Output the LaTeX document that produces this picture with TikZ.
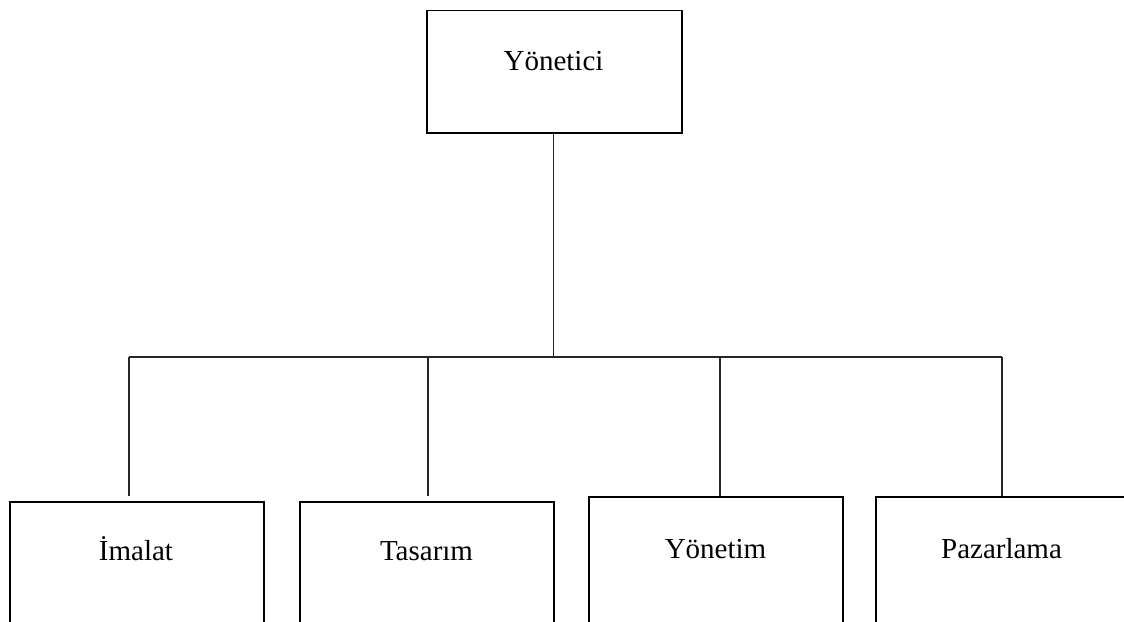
\documentclass[tikz,border=0pt]{standalone}
\usepackage{fontspec}
\setmainfont{Liberation Serif}
\begin{document}
\begin{tikzpicture}[x=1pt,y=-1pt,
  unitbox/.style={draw=black,line width=1.8pt,fill=white,inner sep=0pt,
    minimum width=254pt,anchor=north west},
  headbox/.style={draw=black,line width=1.8pt,fill=white,inner sep=0pt,
    minimum width=255pt,minimum height=122.5pt,anchor=north west},
  caption/.style={anchor=base,inner sep=0pt,font=\fontsize{29}{34}\selectfont},
  wire/.style={draw=black!85,line width=1.1pt}]
\useasboundingbox (0,0) rectangle (1124,621);
\clip (0,0) rectangle (1124,621);

% head of the organisation
\node[headbox] (head) at (426,9.5) {};
\node[caption] (headtxt) at (553.5,70) {Yönetici};

% departments (bottom edges run just past the lower border)
\node[unitbox,minimum height=120.6pt] (imalat) at (9,501) {};
\node[unitbox,minimum height=120.6pt] (tasarim) at (299,501) {};
\node[unitbox,minimum height=125.6pt] (yonetim) at (588,496) {};
\node[unitbox,minimum height=125.6pt] (pazarlama) at (875,496) {};

\node[caption] at (136,560) {İmalat};
\node[caption] at (426.5,560) {Tasarım};
\node[caption] at (715.5,558) {Yönetim};
\node[caption] at (1001.5,558) {Pazarlama};

% branch points
\coordinate (hub) at (553.3,357);
\coordinate (b1) at (129,357);
\coordinate (b2) at (428,357);
\coordinate (b3) at (720,357);
\coordinate (b4) at (1002,357);
\coordinate (t1) at (129,496);
\coordinate (t2) at (428,496);

% connectors
\draw[wire] (head.south -| hub) -- (hub);
\draw[wire] (b1) -- (b4);
\draw[wire] (b1) -- (t1);
\draw[wire] (b2) -- (t2);
\draw[wire] (b3) -- (yonetim.north -| b3);
\draw[wire] (b4) -- (pazarlama.north -| b4);
\end{tikzpicture}
\end{document}
